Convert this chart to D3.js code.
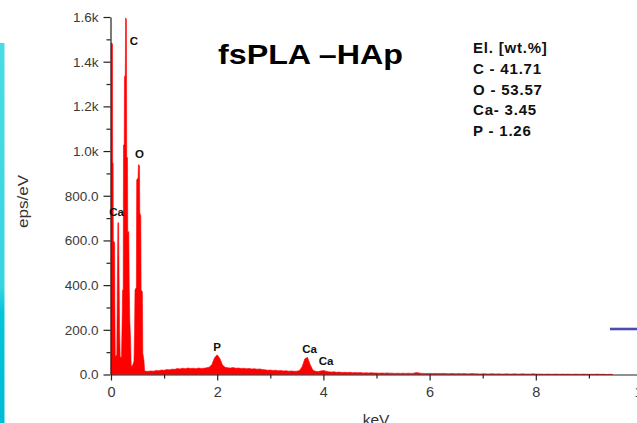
<!DOCTYPE html>
<html>
<head>
<meta charset="utf-8">
<script src="https://cdn.jsdelivr.net/npm/d3@7"></script>
<style>
  html, body { margin: 0; padding: 0; background: #fff; overflow: hidden; }
  text { font-family: "Liberation Sans", Arial, Helvetica, sans-serif; }
</style>
</head>
<body>
<svg id="chart" width="637" height="423"></svg>
<script>
// ---- EDS spectrum of fsPLA–HAp -------------------------------------------

// Low-energy region (C, O and Ca L lines), keV / counts (eps/eV)
const lowKeV = [0.000, 0.004, 0.028, 0.031, 0.040, 0.043, 0.068, 0.073, 0.081, 0.109,
                0.119, 0.130, 0.143, 0.151, 0.162, 0.173, 0.198, 0.207, 0.218, 0.230,
                0.235, 0.249, 0.254, 0.269, 0.275, 0.290, 0.296, 0.311, 0.316, 0.335,
                0.343, 0.354, 0.369, 0.380, 0.414, 0.433, 0.444, 0.452, 0.478, 0.484,
                0.510, 0.516, 0.537, 0.542, 0.561, 0.567, 0.591, 0.599, 0.621, 0.633,
                0.678];
const lowCounts = [0, 1484, 1480, 950, 945, 600, 590, 300, 78, 90,
                   400, 679, 679, 450, 200, 80, 75, 200, 378, 380,
                   1027, 1030, 1331, 1340, 1596, 1590, 973, 970, 633, 640,
                   400, 244, 150, 34, 45, 60, 200, 378, 390, 871,
                   880, 939, 935, 723, 710, 378, 370, 96, 60, 16,
                   14];

// Higher-energy channels (background, P Kα, Ca Kα / Kβ), 0.05 keV wide
const bgStartKeV = 0.70;
const bgStepKeV = 0.05;
const bgCounts = [
  14, 16, 15, 18, 17, 20, 19,
  22, 21, 24, 23, 27, 25, 28, 26, 29, 27,
  28, 26, 29, 27, 28, 30, 33,
  45, 75, 88, 72, 42, 32,
  30, 29, 31, 28, 29, 27, 28,
  26, 27, 25, 26, 24, 25, 22, 21, 19,
  20, 18, 19, 17, 18, 16, 17, 15, 16, 14, 15,
  18, 35, 70, 77, 45, 20,
  14, 13, 16, 18, 15, 12,
  11, 12, 10, 11, 9, 10, 9, 10,
  8, 9, 8, 9, 7, 8, 7, 8, 7, 7,
  6, 7, 6, 7, 6, 6, 5, 6, 5, 6,
  5, 6, 5, 6, 9, 7, 5, 5, 4, 5,
  4, 5, 4, 4, 5, 4, 3, 4, 4, 3,
  4, 3, 4, 3, 3, 4, 3, 3, 2, 3,
  3, 2, 3, 3, 2, 3, 2, 2, 3, 2,
  2, 3, 2, 2, 3, 2, 2, 2, 3, 2,
  2, 2, 1, 2, 2, 1, 2, 2, 1, 2,
  1, 2, 1, 1, 2, 1, 1, 2, 1, 1,
  1, 1, 2, 1, 1, 1, 0, 1, 0
];

// Peak identification labels
const peakNames = ["C", "O", "Ca", "P", "Ca", "Ca"];
const peakLabelKeV = [0.433, 0.537, 0.104, 1.996, 3.738, 4.049];
const peakLabelCounts = [1475, 969, 709, 105, 98, 43];

// Quantification table
const elements = ["C", "O", "Ca", "P"];
const wtPercent = ["41.71", "53.57", "3.45", "1.26"];
const separators = [" - ", " - ", "- ", " - "];

// Axes
const xTickValues = [0, 2, 4, 6, 8, 10];
const xMinorTicks = [1, 3, 5, 7, 9];
const yTickValues = [0, 200, 400, 600, 800, 1000, 1200, 1400, 1600];
const yTickLabels = ["0.0", "200.0", "400.0", "600.0", "800.0", "1.0k", "1.2k", "1.4k", "1.6k"];
const yMinorTicks = [100, 300, 500, 700, 900, 1100, 1300, 1500];

const titleText = "fsPLA \u2013HAp";
const xLabel = "keV";
const yLabel = "eps/eV";

// ---- build the spectrum ---------------------------------------------------
const spectrum = lowKeV.map((k, i) => ({ keV: k, counts: lowCounts[i] }))
  .concat(bgCounts.map((c, i) => ({ keV: bgStartKeV + i * bgStepKeV, counts: c })));

const svg = d3.select("#chart");
svg.append("rect").attr("width", 637).attr("height", 423).attr("fill", "#fff");

const x = d3.scaleLinear().domain([0, 10]).range([111, 642]);
const y = d3.scaleLinear().domain([0, 1600]).range([374.5, 17]);

// side accent bar
const defs = svg.append("defs");
const grad = defs.append("linearGradient").attr("id", "accent")
  .attr("x1", 0).attr("y1", 0).attr("x2", 0).attr("y2", 1);
grad.append("stop").attr("offset", "0%").attr("stop-color", "#4adce4");
grad.append("stop").attr("offset", "64%").attr("stop-color", "#36d5e1");
grad.append("stop").attr("offset", "71%").attr("stop-color", "#06c4dc");
grad.append("stop").attr("offset", "100%").attr("stop-color", "#00bbd6");
svg.append("rect").attr("x", 0).attr("y", 43).attr("width", 4.5).attr("height", 380)
  .attr("fill", "url(#accent)");

// small blue rule at right edge
svg.append("line").attr("x1", 610).attr("x2", 637).attr("y1", 329).attr("y2", 329)
  .attr("stroke", "#4b4bb4").attr("stroke-width", 2.6);

// spectrum fill
const area = d3.area()
  .x(d => x(d.keV))
  .y0(y(0))
  .y1(d => y(d.counts))
  .curve(d3.curveLinear);
svg.append("path").datum(spectrum)
  .attr("d", area)
  .attr("fill", "#ff0000")
  .attr("stroke", "#ff0000")
  .attr("stroke-width", 0.6)
  .attr("stroke-linejoin", "miter");

// axes
const axisColor = "#222";
const labelColor = "#3a3a3a";

const xAxis = svg.append("g").attr("transform", `translate(0,${y(0)})`)
  .call(d3.axisBottom(x).tickValues(xTickValues).tickSize(6).tickSizeOuter(0).tickPadding(6.5)
    .tickFormat(d3.format("d")));
xAxis.select(".domain").attr("stroke", axisColor).attr("stroke-width", 1.2);
xAxis.selectAll(".tick line").attr("stroke", axisColor).attr("stroke-width", 1.2);
xAxis.selectAll(".tick text").attr("fill", labelColor).attr("font-size", 14.5)
  .style("font-family", "'Liberation Sans', Arial, sans-serif");

const xMinor = svg.append("g").attr("transform", `translate(0,${y(0)})`)
  .call(d3.axisBottom(x).tickValues(xMinorTicks).tickSize(4).tickSizeOuter(0).tickFormat(""));
xMinor.select(".domain").remove();
xMinor.selectAll(".tick line").attr("stroke", axisColor).attr("stroke-width", 1.2);

const yAxis = svg.append("g").attr("transform", `translate(${x(0) - 0.5},0)`)
  .call(d3.axisLeft(y).tickValues(yTickValues).tickSize(7).tickSizeOuter(0).tickPadding(5)
    .tickFormat((d, i) => yTickLabels[i]));
yAxis.select(".domain").attr("stroke", axisColor).attr("stroke-width", 1.2);
yAxis.selectAll(".tick line").attr("stroke", axisColor).attr("stroke-width", 1.2);
yAxis.selectAll(".tick text").attr("fill", labelColor).attr("font-size", 13.5)
  .style("font-family", "'Liberation Sans', Arial, sans-serif");

const yMinor = svg.append("g").attr("transform", `translate(${x(0) - 0.5},0)`)
  .call(d3.axisLeft(y).tickValues(yMinorTicks).tickSize(4).tickSizeOuter(0).tickFormat(""));
yMinor.select(".domain").remove();
yMinor.selectAll(".tick line").attr("stroke", axisColor).attr("stroke-width", 1.2);

// axis titles (the frame ends just below the x-axis title)
svg.append("text").text(xLabel)
  .attr("x", 376).attr("y", 424.5).attr("text-anchor", "middle")
  .attr("font-size", 15.5).attr("fill", "#333");
svg.append("text").text(yLabel)
  .attr("transform", "translate(28,201.5) rotate(-90)")
  .attr("text-anchor", "middle")
  .attr("font-size", 15).attr("fill", "#333")
  .attr("textLength", 53).attr("lengthAdjust", "spacingAndGlyphs");

// peak labels
svg.append("g").selectAll("text").data(peakNames).join("text")
  .text(d => d)
  .attr("x", (d, i) => x(peakLabelKeV[i]))
  .attr("y", (d, i) => y(peakLabelCounts[i]))
  .attr("text-anchor", "middle")
  .attr("font-size", 11.5).attr("font-weight", "bold").attr("fill", "#111");

// title
svg.append("text").text(titleText)
  .attr("x", 218).attr("y", 63.5)
  .attr("font-size", 27).attr("font-weight", "bold").attr("fill", "#000")
  .attr("textLength", 185).attr("lengthAdjust", "spacingAndGlyphs");

// quantification table
const tableLines = ["El. [wt.%]"].concat(elements.map((e, i) => e + separators[i] + wtPercent[i]));
svg.append("g").selectAll("text").data(tableLines).join("text")
  .text(d => d)
  .attr("x", 473)
  .attr("y", (d, i) => 53 + i * 20.75)
  .attr("font-size", 15).attr("font-weight", "bold").attr("fill", "#111")
  .attr("letter-spacing", 0.8);
</script>
</body>
</html>
